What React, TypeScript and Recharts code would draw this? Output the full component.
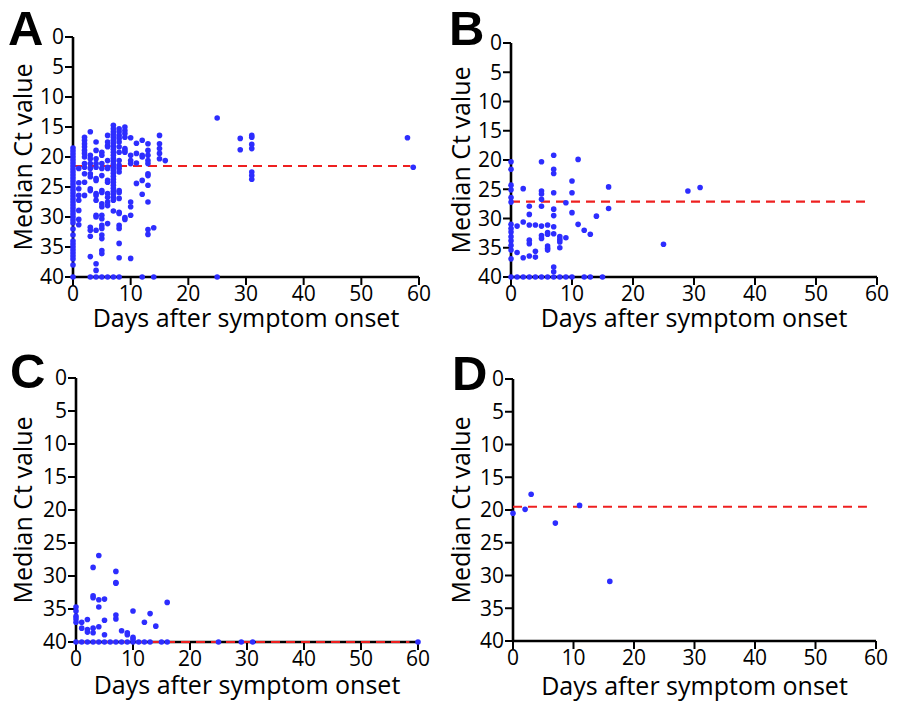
import React from 'react';
import { ScatterChart, Scatter, XAxis, YAxis, ReferenceLine, Label } from 'recharts';

const DOT = '#2d2dff';
const MEDIAN = '#ee2020';
const FONT = '"Open Sans", sans-serif';

const xTicks = [0, 10, 20, 30, 40, 50, 60];
const yTicks = [0, 5, 10, 15, 20, 25, 30, 35, 40];
const xLabel = 'Days after symptom onset';
const yLabel = 'Median Ct value';
const panelNames = ['A', 'B', 'C', 'D'];
const medians = [21.5, 27.1, 40, 19.5];
const medianEnd = 58.5;

// [day, Ct values read on that day]
const panelA: [number, number[]][] = [
  [0, [18.5, 19, 19.5, 20, 20.5, 21, 21.5, 22, 22.5, 23, 23.5, 24, 24.5, 25, 25.5, 26, 26.5, 27, 27.5, 28, 28.5, 29, 29.5, 30, 30.5, 31, 32, 33, 34, 34.5, 35, 35.5, 36, 36.5, 37, 38, 40]],
  [1, [21.9, 24.3, 25.3, 26.4, 27.2, 28.9, 30.4, 31.3]],
  [2, [16.7, 17.2, 17.8, 18.3, 18.9, 19.4, 20, 21.1, 21.7, 22.8, 24.2, 26.4]],
  [3, [15.8, 19.7, 20.3, 21.1, 21.9, 22.8, 23.3, 25.3, 25.6, 31.7, 32.2, 33.2, 36.6, 40]],
  [4, [17.5, 18.9, 20.3, 21.1, 21.7, 23.6, 23.9, 26.1, 26.4, 27.2, 29.7, 30, 32.2, 37.8, 38.9, 40]],
  [5, [19.2, 19.7, 21.1, 21.9, 23.1, 25.6, 25.9, 27.8, 28.3, 29.7, 30.3, 31.4, 31.9, 33, 33.6, 35.6, 36.1, 40]],
  [6, [16.4, 17.5, 18.1, 18.3, 20.6, 21.7, 21.9, 23.9, 24.2, 26.1, 26.7, 27.5, 28.1, 31.1, 40]],
  [7, [14.7, 15.3, 15.8, 16.2, 16.7, 17.2, 17.7, 18.2, 18.7, 19.2, 19.7, 20.2, 20.7, 21.2, 21.7, 22.2, 22.7, 23.2, 23.7, 24.2, 24.7, 25.2, 25.7, 26.2, 26.7, 27.2, 29, 40]],
  [8, [15.3, 15.8, 16.4, 16.9, 17.5, 18.3, 19.2, 20.6, 21.4, 21.9, 22.5, 25.6, 25.9, 26.9, 29.2, 29.4, 31.4, 31.9, 34.4, 36.8, 40]],
  [9, [15, 15.6, 16.1, 16.7, 18.6, 18.9, 19.2, 30.1, 30.4]],
  [10, [16.8, 19.7, 20.6, 21.1, 27.5, 28.3, 29.7, 36.9]],
  [11, [17.7, 19.4, 21, 24.4]],
  [12, [17.2, 19.7, 20, 23.9, 26.2, 40]],
  [13, [17.8, 18.9, 19.7, 20.6, 21.1, 22.8, 23.1, 24.7, 27.5, 32.1, 32.9]],
  [14, [31.8, 40]],
  [15, [16.4, 17.8, 18.6, 19.4, 20.3]],
  [16, [20.6]],
  [25, [13.5, 40]],
  [29, [16.9, 18.8]],
  [31, [16.4, 16.7, 17.9, 18.6, 22.5, 23.1, 23.7]],
  [58, [16.8]],
  [59, [21.7]],
];

const panelB: [number, number[]][] = [
  [0, [20.3, 21.6, 24.3, 25.1, 26.4, 27.2, 31, 31.7, 32.3, 33.1, 33.8, 34.6, 35.4, 36.9, 40]],
  [1, [31.3, 35.8, 40]],
  [2, [24.9, 30.6, 36.7, 40]],
  [3, [27.9, 29.3, 31.1, 33.7, 34.3, 36.4, 40]],
  [4, [31.1, 35.6, 36.6, 40]],
  [5, [20.3, 25.3, 25.8, 26.7, 27.9, 31.3, 32.9, 33.4, 40]],
  [6, [31.1, 32.4, 32.7, 34.7, 35.1, 35.4, 40]],
  [7, [19.2, 21.6, 22.3, 25.6, 28.4, 29.5, 31.4, 32.6, 38.3, 39.1, 40]],
  [8, [33.1, 33.6, 34, 35, 40]],
  [9, [27.3, 33.3, 40]],
  [10, [23.6, 25.6, 29, 40]],
  [11, [19.9, 31]],
  [12, [32, 40]],
  [13, [32.7, 40]],
  [14, [29.6]],
  [15, [40]],
  [16, [24.6, 28.3]],
  [25, [34.4]],
  [29, [25.3]],
  [31, [24.7]],
];

const panelC: [number, number[]][] = [
  [0, [34.7, 35.3, 36.1, 36.5, 37, 40]],
  [1, [37, 37.9, 40]],
  [2, [36.6, 38.1, 38.5, 40]],
  [3, [28.7, 33, 33.3, 37.9, 38.6, 40]],
  [4, [26.9, 33.6, 34.7, 37.7, 40]],
  [5, [33.5, 36.7, 38.9, 40]],
  [6, [40]],
  [7, [29.3, 31, 31.1, 35.9, 36.5, 40]],
  [8, [38.3, 40]],
  [9, [38.6, 38.9, 40]],
  [10, [35.3, 39.3, 39.6, 40]],
  [11, [40]],
  [12, [37, 40]],
  [13, [35.7, 40]],
  [14, [37.6]],
  [15, [40]],
  [16, [34, 40]],
  [25, [40]],
  [29, [40]],
  [31, [40]],
  [60, [40]],
];

const panelD: [number, number[]][] = [
  [0, [20.5]],
  [2, [19.9]],
  [3, [17.6]],
  [7, [22]],
  [11, [19.3]],
  [16, [30.9]],
];

const panelData = [panelA, panelB, panelC, panelD];

// placement of each panel in the page and its plot box
const layouts = [
  { x: 0, y: 0, left: 73, right: 31, top: 37, xh: 50, bottom: 34, labelX: 32, lx: 8, ly: 45 },
  { x: 450, y: 0, left: 61, right: 23, top: 43, xh: 50, bottom: 34, labelX: 20, lx: 449, ly: 45 },
  { x: 0, y: 361, left: 76, right: 32, top: 17, xh: 52, bottom: 28, labelX: 32, lx: 10, ly: 388 },
  { x: 450, y: 361, left: 63, right: 24, top: 18, xh: 54, bottom: 27, labelX: 20, lx: 452, ly: 390 },
];

const renderDot = (props: any) => (
  <circle cx={props.cx} cy={props.cy} r={2.8} fill={DOT} />
);

const Panel = ({ points, median, layout }: any) => {
  const data = points.flatMap(([day, cts]: [number, number[]]) =>
    cts.map((ct) => ({ day, ct }))
  );
  const tickStyle = { fill: '#000', fontSize: 21, fontFamily: FONT };
  return (
    <ScatterChart
      width={450}
      height={361}
      margin={{ top: layout.top, right: layout.right, bottom: layout.bottom, left: 0 }}
      style={{ overflow: 'visible' }}
    >
      <XAxis
        type="number"
        dataKey="day"
        domain={[0, 60]}
        ticks={xTicks}
        interval={0}
        height={layout.xh}
        axisLine={{ stroke: '#000', strokeWidth: 2.6 }}
        tickLine={{ stroke: '#000', strokeWidth: 2 }}
        tickSize={8}
        tickMargin={1}
        tick={tickStyle}
      >
        <Label
          value={xLabel}
          position="insideBottom"
          offset={0}
          fill="#000"
          fontSize={25}
          fontFamily={FONT}
        />
      </XAxis>
      <YAxis
        type="number"
        dataKey="ct"
        domain={[0, 40]}
        reversed
        ticks={yTicks}
        interval={0}
        width={layout.left}
        axisLine={{ stroke: '#000', strokeWidth: 2.6 }}
        tickLine={{ stroke: '#000', strokeWidth: 2 }}
        tickSize={8}
        tickMargin={1}
        tick={tickStyle}
      >
        <Label
          content={(p: any) => {
            const vb = p.viewBox;
            const cx = vb.x + layout.labelX;
            const cy = vb.y + vb.height / 2;
            return (
              <text
                x={cx}
                y={cy}
                transform={`rotate(-90 ${cx} ${cy})`}
                textAnchor="middle"
                fill="#000"
                fontSize={25}
                fontFamily={FONT}
              >
                {yLabel}
              </text>
            );
          }}
        />
      </YAxis>
      <ReferenceLine
        segment={[{ x: 0, y: median }, { x: medianEnd, y: median }]}
        stroke={MEDIAN}
        strokeWidth={2.2}
        strokeDasharray="9 6"
        zIndex={550}
      />
      <Scatter data={data} shape={renderDot} isAnimationActive={false} />
    </ScatterChart>
  );
};

export default function App() {
  return (
    <div style={{ position: 'absolute', left: 0, top: 0, width: 900, height: 722, background: '#fff' }}>
      {layouts.map((l, i) => (
        <div key={i} style={{ position: 'absolute', left: l.x, top: l.y }}>
          <Panel points={panelData[i]} median={medians[i]} layout={l} />
        </div>
      ))}
      <svg
        width={900}
        height={722}
        style={{ position: 'absolute', left: 0, top: 0, pointerEvents: 'none' }}
      >
        {layouts.map((l, i) => (
          <text
            key={i}
            x={l.lx}
            y={l.ly}
            fontFamily='"Liberation Sans", Arial, sans-serif'
            fontWeight="bold"
            fontSize={49}
            fill="#000"
          >
            {panelNames[i]}
          </text>
        ))}
      </svg>
    </div>
  );
}
